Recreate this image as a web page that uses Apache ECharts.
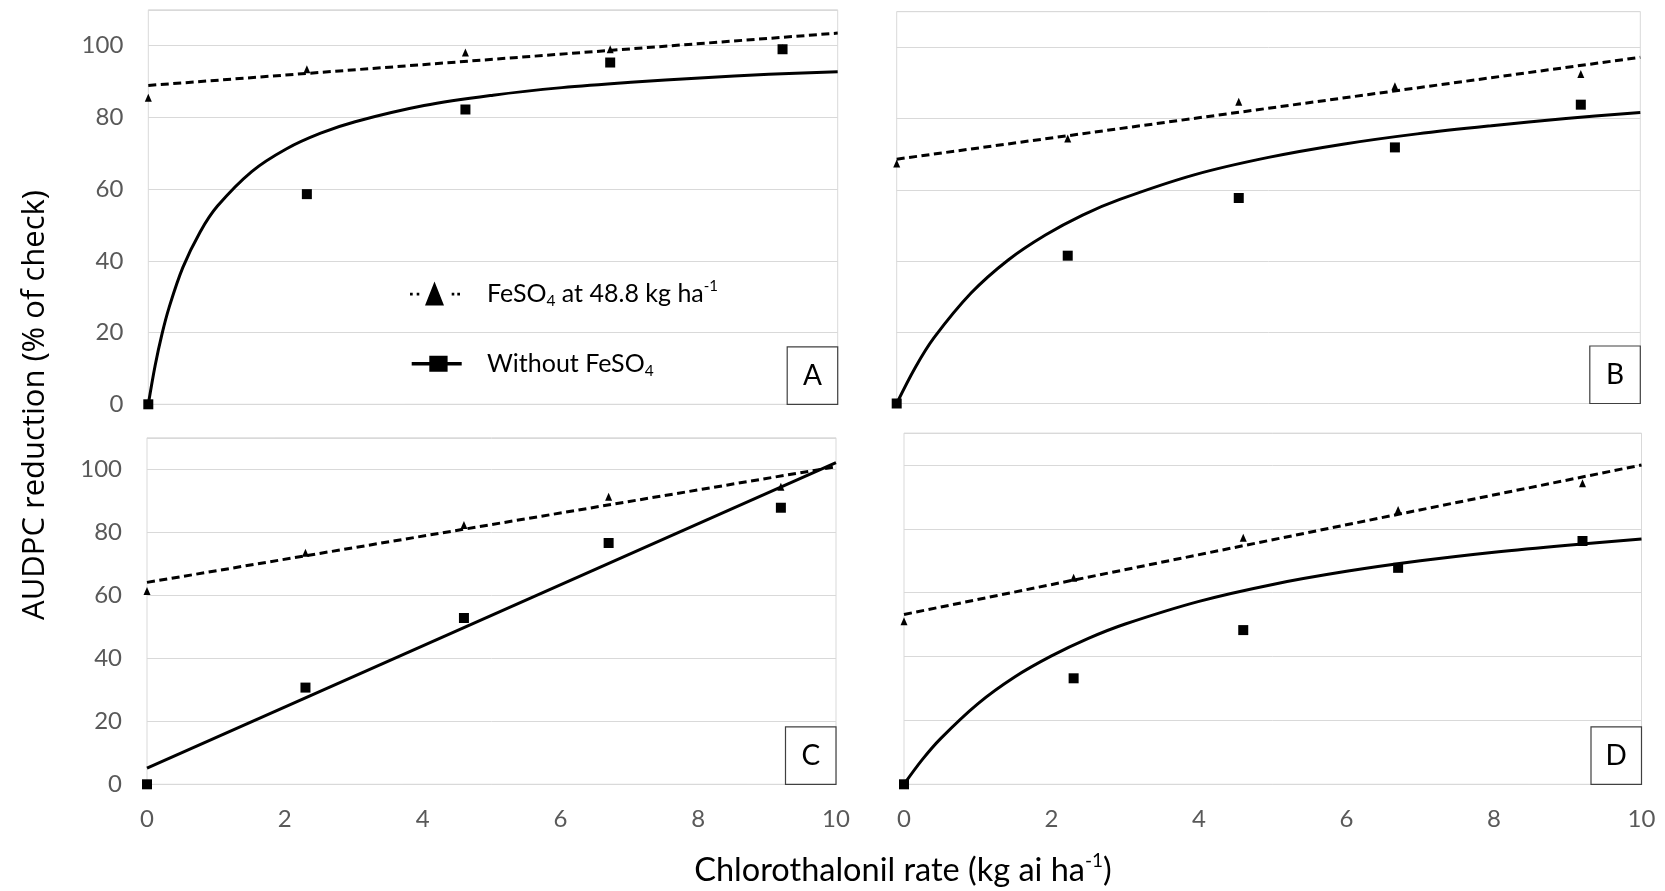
<!DOCTYPE html>
<html>
<head>
<meta charset="utf-8">
<title>AUDPC reduction vs chlorothalonil rate</title>
<script src="https://cdn.jsdelivr.net/npm/echarts@6/dist/echarts.min.js"></script>
<style>
  html, body { margin: 0; padding: 0; background: #fff; }
  #container { width: 1665px; height: 891px; }
</style>
</head>
<body>
<div id="container"></div>
<script>
// chlorothalonil rates of the observed points (kg ai/ha)
const rates = [0, 2.3, 4.6, 6.7, 9.2];
const xTicks = [0, 2, 4, 6, 8, 10];
const yTicks = [0, 20, 40, 60, 80, 100];
const yTop = 110;
const letters = ['A', 'B', 'C', 'D'];

// observed AUDPC reduction (% of check)
const withFeA = [85.5, 93.4, 98.1, 99.0, 99.3];
const withoutFeA = [0, 58.6, 82.2, 95.3, 99.0];
const withFeB = [67.4, 74.4, 84.7, 89.1, 92.5];
const withoutFeB = [0, 41.5, 57.7, 71.9, 83.9];
const withFeC = [61.4, 73.5, 82.3, 91.3, 94.5];
const withoutFeC = [0, 30.7, 52.8, 76.6, 87.8];
const withFeD = [51.1, 64.7, 77.2, 85.9, 94.3];
const withoutFeD = [0, 33.2, 48.3, 67.8, 76.2];

// fitted curves as [rate, reduction]
const fitFeA = [[0, 88.9], [10, 103.5]];
const fitFeB = [[0, 68.6], [10, 97.2]];
const fitFeC = [[0, 64.1], [10, 100.8]];
const fitFeD = [[0, 53.2], [10, 100.0]];
const fitNoFeA = [[0, 0], [0.1, 10.9], [0.2, 19.7], [0.3, 26.9], [0.5, 38.1], [0.75, 48], [1, 55.2], [1.5, 64.9],
  [2, 71.2], [2.5, 75.6], [3, 78.8], [4, 83.3], [5, 86.2], [6, 88.3], [7, 89.8], [8, 91], [9, 92], [10, 92.7]];
const fitNoFeB = [[0, 0], [0.25, 10.1], [0.5, 18.4], [1, 31], [1.5, 40.3], [2, 47.3], [2.5, 52.9], [3, 57.3],
  [4, 64.2], [5, 69.1], [6, 72.8], [7, 75.7], [8, 78], [9, 80], [10, 81.7]];
const fitNoFeC = [[0, 5.1], [10, 102.1]];
const fitNoFeD = [[0, 0], [0.25, 7.8], [0.5, 14.4], [1, 25.2], [1.5, 33.6], [2, 40.2], [2.5, 45.7], [3, 50.2],
  [4, 57.3], [5, 62.6], [6, 66.7], [7, 70], [8, 72.7], [9, 74.9], [10, 76.8]];

const withFe = [withFeA, withFeB, withFeC, withFeD];
const withoutFe = [withoutFeA, withoutFeB, withoutFeC, withoutFeD];
const fitFe = [fitFeA, fitFeB, fitFeC, fitFeD];
const fitNoFe = [fitNoFeA, fitNoFeB, fitNoFeC, fitNoFeD];

// plot areas in px
const boxes = [
  { left: 148.3, top: 9.8, width: 689.4, height: 394.5 },
  { left: 896.7, top: 11.7, width: 743.6, height: 391.8 },
  { left: 147, top: 437.8, width: 689, height: 346.5 },
  { left: 904, top: 433.1, width: 737.5, height: 351.2 }
];

const FONT = 'Lato';
const GRID_GRAY = '#d9d9d9';
const LABEL_GRAY = '#595959';

let chart = echarts.init(document.getElementById('container'), null, { renderer: 'canvas' });

let grids = [], xAxes = [], yAxes = [], series = [], graphics = [];

boxes.forEach((b, i) => {
  const bottomRow = i >= 2;
  const leftCol = i % 2 === 0;
  grids.push({
    left: b.left, top: b.top, width: b.width, height: b.height,
    containLabel: false, outerBoundsMode: 'none',
    show: true, borderColor: GRID_GRAY, borderWidth: 1, backgroundColor: 'transparent'
  });
  xAxes.push({
    type: 'value', gridIndex: i,
    min: xTicks[0], max: xTicks[xTicks.length - 1], interval: xTicks[1] - xTicks[0],
    axisLine: { show: false }, axisTick: { show: false }, splitLine: { show: false },
    axisLabel: { show: bottomRow, color: LABEL_GRAY, fontFamily: FONT, fontSize: 24, margin: 23 }
  });
  yAxes.push({
    type: 'value', gridIndex: i,
    min: yTicks[0], max: yTop, interval: yTicks[1] - yTicks[0],
    axisLine: { show: false }, axisTick: { show: false },
    splitLine: { show: true, lineStyle: { color: GRID_GRAY, width: 1 } },
    axisLabel: {
      show: leftCol, color: LABEL_GRAY, fontFamily: FONT, fontSize: 24, margin: 25,
      showMaxLabel: false,
      formatter: v => (yTicks.indexOf(v) >= 0 ? String(v) : '')
    }
  });

  series.push({
    name: 'fe', type: 'scatter', xAxisIndex: i, yAxisIndex: i,
    symbol: 'triangle', symbolSize: [7, 8],
    itemStyle: { color: '#000', opacity: 1 }, z: 2,
    data: rates.map((r, k) => [r, withFe[i][k]])
  });
  series.push({
    name: 'nofe', type: 'scatter', xAxisIndex: i, yAxisIndex: i,
    symbol: 'rect', symbolSize: 10,
    itemStyle: { color: '#000', opacity: 1 }, z: 3,
    data: rates.map((r, k) => [r, withoutFe[i][k]])
  });
  series.push({
    name: 'fe-fit', type: 'line', xAxisIndex: i, yAxisIndex: i,
    showSymbol: false, symbol: 'none',
    lineStyle: { color: '#000', width: 3, type: [8, 4.5] }, z: 4,
    data: fitFe[i]
  });
  series.push({
    name: 'nofe-fit', type: 'line', xAxisIndex: i, yAxisIndex: i,
    showSymbol: false, symbol: 'none', smooth: 0.35,
    lineStyle: { color: '#000', width: 3 }, z: 4,
    data: fitNoFe[i]
  });

  // panel letter in a small box at the lower right corner
  const right = b.left + b.width, bottom = b.top + b.height;
  graphics.push({
    type: 'rect', z: 20,
    shape: { x: right - 50.5, y: bottom - 57.5, width: 50.5, height: 57.5 },
    style: { fill: '#fff', stroke: '#404040', lineWidth: 1.2 }
  });
  graphics.push({
    type: 'text', z: 21, x: right - 25.25, y: bottom - 28.75,
    style: { text: letters[i], font: '28px ' + FONT, fill: '#000', align: 'center', verticalAlign: 'middle' }
  });
});

// axis titles
graphics.push({
  type: 'text', z: 21, x: 35.5, y: 405, rotation: Math.PI / 2,
  style: {
    text: 'AUDPC reduction (% of check)', font: '31px "Open Sans"', fill: '#000',
    align: 'center', verticalAlign: 'middle'
  }
});
graphics.push({
  type: 'text', z: 21, x: 903, y: 871,
  style: {
    text: '{t|Chlorothalonil rate (kg ai ha}{sup|-1}{t|)}', align: 'center', verticalAlign: 'middle',
    rich: {
      t: { fontFamily: FONT, fontSize: 32.5, lineHeight: 40, color: '#000' },
      sup: { fontFamily: FONT, fontSize: 19, lineHeight: 19, color: '#000', verticalAlign: 'top' }
    }
  }
});

function legendRich(sp) {
  return {
    sp: { width: sp },
    t: { fontFamily: FONT, fontSize: 25, lineHeight: 30, color: '#000' },
    sub: { fontFamily: FONT, fontSize: 15.5, lineHeight: 16, color: '#000', verticalAlign: 'bottom' },
    sup: { fontFamily: FONT, fontSize: 15, lineHeight: 20, color: '#000', verticalAlign: 'top' }
  };
}

const feIcon = 'path://M0,11.3h2.7v2.7h-2.7z M6.7,11.3h2.6v2.7h-2.6z M41.7,11.3h2.6v2.7h-2.6z M47.3,11.3h2.7v2.7h-2.7z M15,24L24.5,0L34,24z';
const noFeIcon = 'path://M0,6.3h50v3.4h-50z M17.6,0h18.3v16h-18.3z';

chart.setOption({
  animation: false,
  backgroundColor: '#fff',
  grid: grids,
  xAxis: xAxes,
  yAxis: yAxes,
  legend: [
    {
      data: [{ name: 'fe', icon: feIcon, itemStyle: { color: '#000', opacity: 1 } }],
      left: 410, top: 278.5, padding: 0, itemWidth: 50, itemHeight: 24,
      selectedMode: false,
      formatter: () => '{sp| }{t|FeSO}{sub|4}{t| at 48.8 kg ha}{sup|-1}',
      textStyle: { rich: legendRich(22) }
    },
    {
      data: [{ name: 'nofe', icon: noFeIcon, itemStyle: { color: '#000', opacity: 1 } }],
      left: 411.7, top: 351.3, padding: 0, itemWidth: 50, itemHeight: 16,
      selectedMode: false,
      formatter: () => '{sp| }{t|Without FeSO}{sub|4}',
      textStyle: { rich: legendRich(20.3) }
    }
  ],
  graphic: graphics,
  series: series
});
</script>
</body>
</html>
